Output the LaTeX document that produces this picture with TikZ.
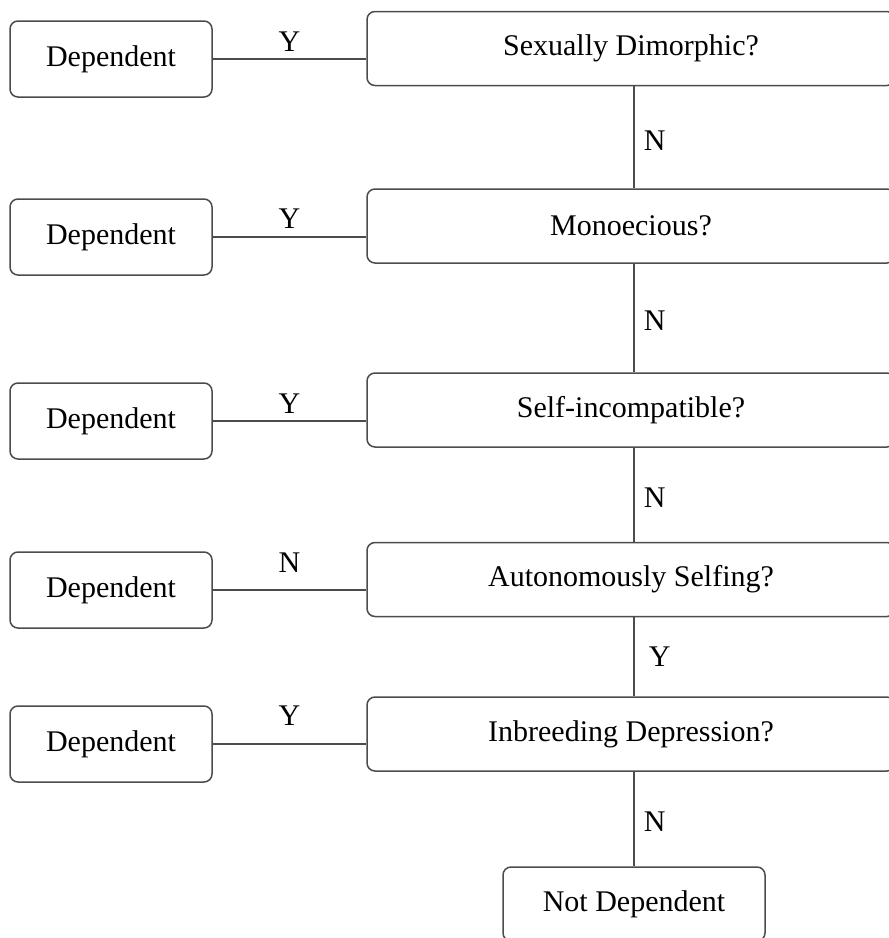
\documentclass[tikz,border=0pt]{standalone}
\usepackage{fontspec}
\setmainfont{Liberation Serif}
\begin{document}
\begin{tikzpicture}[x=1pt,y=-1pt,
  box/.style={draw=black!70, line width=1.5pt, rounded corners=8pt, fill=white, inner sep=0pt, font=\fontsize{30}{36}\selectfont},
  lbox/.style={box, minimum width=202pt, minimum height=76pt},
  rbox/.style={box, minimum width=528pt, minimum height=74pt},
  conn/.style={draw=black!70, line width=1.5pt},
  lab/.style={font=\fontsize{30}{36}\selectfont, inner sep=0pt}]
\useasboundingbox (0,0) rectangle (889,938);

\node[lbox] (l1) at (111,59) {Dependent};
\node[lbox] (l2) at (111,237) {Dependent};
\node[lbox] (l3) at (111,421) {Dependent};
\node[lbox] (l4) at (111,590) {Dependent};
\node[lbox] (l5) at (111,744) {Dependent};

\node[rbox] (r1) at (631,48.5) {Sexually Dimorphic?};
\node[rbox] (r2) at (631,226) {Monoecious?};
\node[rbox] (r3) at (631,410) {Self-incompatible?};
\node[rbox] (r4) at (631,579.5) {Autonomously Selfing?};
\node[rbox] (r5) at (631,734) {Inbreeding Depression?};

\node[box, minimum width=262pt, minimum height=74pt] (nd) at (634,904) {Not Dependent};

\draw[conn] (l1.east) -- (l1.east -| r1.west) node[midway, lab, anchor=base, yshift=8pt] {Y};
\draw[conn] (l2.east) -- (l2.east -| r2.west) node[midway, lab, anchor=base, yshift=9pt] {Y};
\draw[conn] (l3.east) -- (l3.east -| r3.west) node[midway, lab, anchor=base, yshift=8pt] {Y};
\draw[conn] (l4.east) -- (l4.east -| r4.west) node[midway, lab, anchor=base, yshift=18pt] {N};
\draw[conn] (l5.east) -- (l5.east -| r5.west) node[midway, lab, anchor=base, yshift=19pt] {Y};

\draw[conn] (r1.south -| nd.north) -- (r2.north -| nd.north) node[midway, lab, anchor=west, xshift=9pt, yshift=-3pt] {N};
\draw[conn] (r2.south -| nd.north) -- (r3.north -| nd.north) node[midway, lab, anchor=west, xshift=9pt, yshift=-3pt] {N};
\draw[conn] (r3.south -| nd.north) -- (r4.north -| nd.north) node[midway, lab, anchor=west, xshift=9pt, yshift=-3pt] {N};
\draw[conn] (r4.south -| nd.north) -- (r5.north -| nd.north) node[midway, lab, anchor=west, xshift=14pt, yshift=0pt] {Y};
\draw[conn] (r5.south -| nd.north) -- (nd.north) node[midway, lab, anchor=west, xshift=9pt, yshift=-3pt] {N};
\end{tikzpicture}
\end{document}
